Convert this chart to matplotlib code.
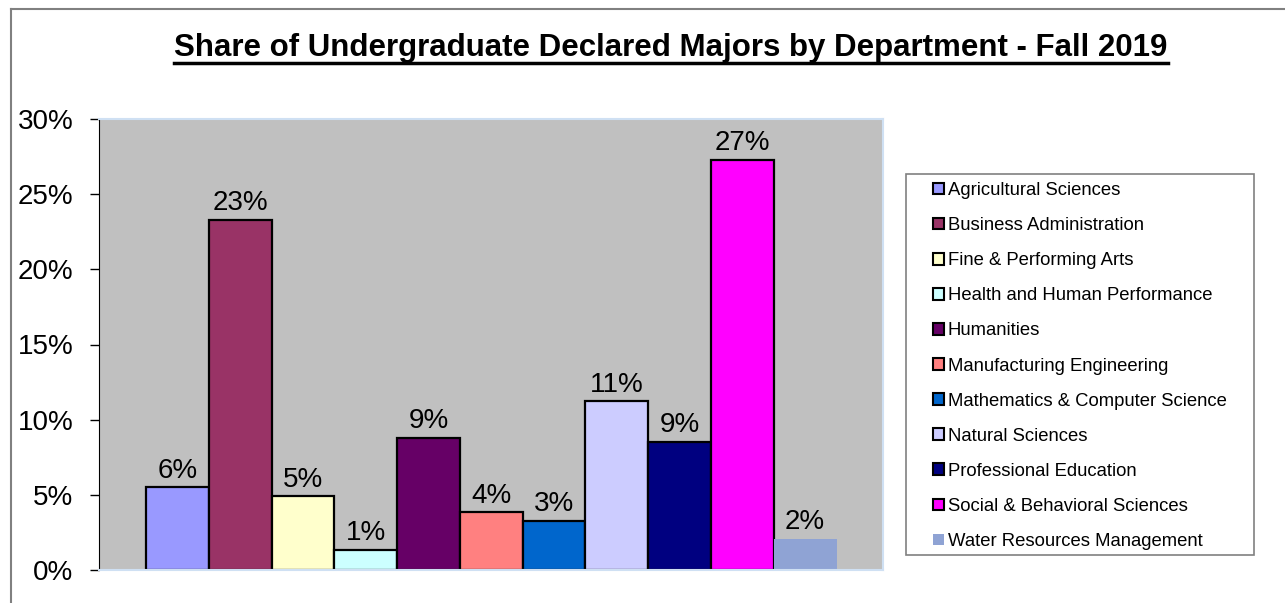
import numpy as np
import matplotlib
matplotlib.use("Agg")
import matplotlib.pyplot as plt
from matplotlib.patches import Rectangle, Patch
from matplotlib.lines import Line2D
from matplotlib.ticker import FuncFormatter

plt.rcParams['font.family'] = ['Liberation Sans', 'DejaVu Sans']

departments = ["Agricultural Sciences", "Business Administration", "Fine & Performing Arts",
               "Health and Human Performance", "Humanities", "Manufacturing Engineering",
               "Mathematics & Computer Science", "Natural Sciences", "Professional Education",
               "Social & Behavioral Sciences", "Water Resources Management"]
shares = [5.5, 23.3, 4.9, 1.35, 8.8, 3.84, 3.29, 11.22, 8.51, 27.27, 2.07]
colors = ["#9999FF", "#993366", "#FFFFCC", "#CCFFFF", "#660066", "#FF8080",
          "#0066CC", "#CCCCFF", "#000080", "#FF00FF", "#8FA3D4"]
edged = [True] * 10 + [False]

W, H = 1285, 603
fig = plt.figure(figsize=(W / 100, H / 100), dpi=100)
ax = fig.add_axes([99 / W, 1 - 570 / H, (883 - 99) / W, (570 - 119) / H])
ax.set_facecolor("#C0C0C0")

x = np.arange(len(shares))
for i in range(len(shares)):
    ax.bar(x[i], shares[i], width=1.0, color=colors[i],
           edgecolor="black" if edged[i] else "none", linewidth=1.6)
    ax.annotate(f"{shares[i]:.0f}%", (x[i], shares[i]), xytext=(0, 7),
                textcoords="offset points", ha="center", va="baseline", fontsize=20)

ax.set_xlim(-1.25, 11.24)
ax.set_ylim(0, 30)
ax.set_yticks([0, 5, 10, 15, 20, 25, 30])
ax.yaxis.set_major_formatter(FuncFormatter(lambda v, p: f"{v:.0f}%"))
ax.tick_params(axis="y", length=6.5, width=1, pad=12, labelsize=20, colors="black")
ax.set_xticks([])
ax.spines["left"].set_color("black")
for s in ["top", "right", "bottom"]:
    ax.spines[s].set_color("#CFE0F3")
    ax.spines[s].set_linewidth(1.5)

# title with underline
t = fig.text(671 / W, 1 - 56 / H, "Share of Undergraduate Declared Majors by Department - Fall 2019",
             ha="center", va="baseline", fontsize=22.5, fontweight="bold")
fig.canvas.draw()
bb = t.get_window_extent(fig.canvas.get_renderer())
uy = 1 - 62.5 / H
fig.add_artist(Line2D([bb.x0 / W, bb.x1 / W], [uy, uy], color="black", linewidth=2.5,
                      transform=fig.transFigure))

# outer chart border
fig.add_artist(Line2D([11 / W, 11 / W], [0, 1 - 9 / H], color="#808080", linewidth=1.5,
                      transform=fig.transFigure))
fig.add_artist(Line2D([11 / W, 1], [1 - 9 / H, 1 - 9 / H], color="#808080", linewidth=1.5,
                      transform=fig.transFigure))

# legend
fig.add_artist(Rectangle((906 / W, 1 - 555 / H), (1254 - 906) / W, (555 - 174) / H,
                         transform=fig.transFigure, facecolor="white", edgecolor="#808080",
                         linewidth=1.2, zorder=0))
handles = [Patch(facecolor=colors[i], edgecolor="black" if edged[i] else "none", linewidth=1.5)
           for i in range(len(departments))]
fig.legend(handles, departments, loc="upper left", bbox_to_anchor=(933 / W, 1 - 182 / H),
           frameon=False, fontsize=13.3, borderpad=0, borderaxespad=0,
           handlelength=0.6, handleheight=0.6, handletextpad=0.2, labelspacing=0.98)

fig.savefig("out.png", dpi=100)
